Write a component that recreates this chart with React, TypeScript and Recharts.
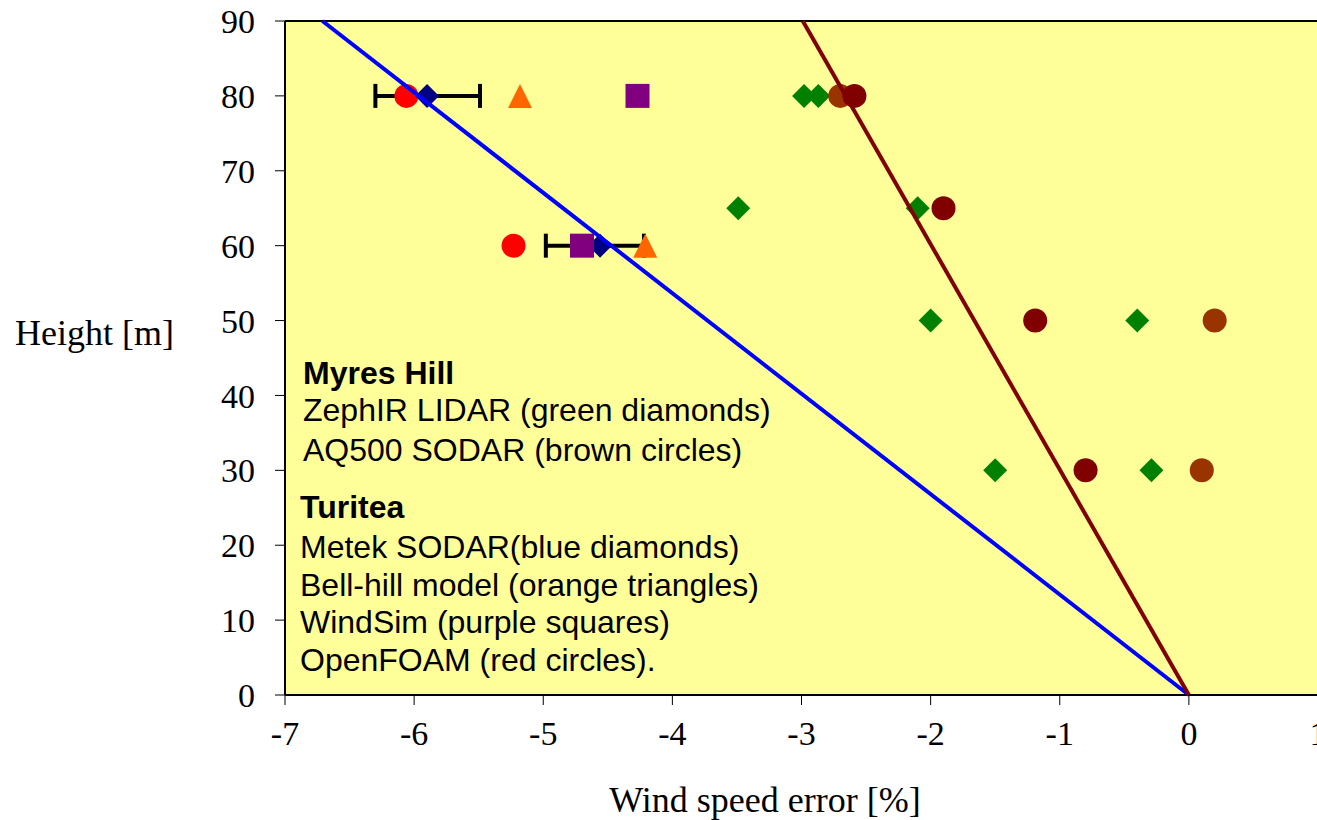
import React from 'react';
import {
  ComposedChart,
  Scatter,
  XAxis,
  YAxis,
  CartesianGrid,
  ReferenceLine,
  ErrorBar
} from 'recharts';

// x = wind speed error [%], y = height [m]
const openFoam = [
  { x: -6.06, y: 80 },
  { x: -5.23, y: 60 }
];
const metek = [
  { x: -5.9, y: 80, err: [0.4, 0.41] },
  { x: -4.56, y: 60, err: [0.42, 0.34] }
];
const bellHill = [
  { x: -5.18, y: 80 },
  { x: -4.21, y: 60 }
];
const windSim = [
  { x: -4.27, y: 80 },
  { x: -4.7, y: 60 }
];
const zephir = [
  { x: -2.98, y: 80 },
  { x: -2.87, y: 80 },
  { x: -3.49, y: 65 },
  { x: -2.1, y: 65 },
  { x: -2.0, y: 50 },
  { x: -0.4, y: 50 },
  { x: -1.5, y: 30 },
  { x: -0.29, y: 30 }
];
const aq500Dark = [
  { x: -2.59, y: 80 },
  { x: -1.9, y: 65 },
  { x: -1.19, y: 50 },
  { x: -0.8, y: 30 }
];
const aq500Brown = [
  { x: -2.7, y: 80 },
  { x: 0.2, y: 50 },
  { x: 0.1, y: 30 }
];
const blueTrend = [
  { x: 0, y: 0 },
  { x: -6.71, y: 90 }
];
const redTrend = [
  { x: 0, y: 0 },
  { x: -2.99, y: 90 }
];

const xTicks = [-7, -6, -5, -4, -3, -2, -1, 0, 1];
const yTicks = [0, 10, 20, 30, 40, 50, 60, 70, 80, 90];

const myresLines = ['ZephIR LIDAR (green diamonds)', 'AQ500 SODAR (brown circles)'];
const turiteaLines = [
  'Metek SODAR(blue diamonds)',
  'Bell-hill model (orange triangles)',
  'WindSim (purple squares)',
  'OpenFOAM (red circles).'
];

const R = 12;

const Circle = (fill: string) => (p: any) => <circle cx={p.cx} cy={p.cy} r={R} fill={fill} />;
const Diamond = (fill: string) => (p: any) => (
  <polygon
    points={`${p.cx},${p.cy - R} ${p.cx + R},${p.cy} ${p.cx},${p.cy + R} ${p.cx - R},${p.cy}`}
    fill={fill}
  />
);
const Square = (fill: string) => (p: any) => (
  <rect x={p.cx - R} y={p.cy - R} width={2 * R} height={2 * R} fill={fill} />
);
const Triangle = (fill: string) => (p: any) => (
  <polygon
    points={`${p.cx},${p.cy - R} ${p.cx + R},${p.cy + R} ${p.cx - R},${p.cy + R}`}
    fill={fill}
  />
);
const Nothing = () => <g />;

const serif = '"Liberation Serif", "Times New Roman", serif';
const sans = '"Liberation Sans", Arial, sans-serif';

const legendLine = (text: string, top: number, left: number, bold = false) => (
  <div
    key={text}
    style={{
      position: 'absolute',
      left,
      top,
      transform: 'translateY(-50%)',
      fontFamily: sans,
      fontSize: 32,
      fontWeight: bold ? 'bold' : 'normal',
      lineHeight: 1,
      whiteSpace: 'nowrap',
      color: '#000'
    }}
  >
    {text}
  </div>
);

const App = () => {
  return (
    <div
      style={{
        position: 'fixed',
        left: 0,
        top: 0,
        width: 1317,
        height: 820,
        overflow: 'hidden',
        background: '#fff'
      }}
    >
      <ComposedChart
        width={1400}
        height={820}
        margin={{ top: 21, right: 82, bottom: 0, left: 0 }}
      >
        <CartesianGrid fill="#FFFF99" horizontal={false} vertical={false} />
        <XAxis
          type="number"
          dataKey="x"
          domain={[-7, 1]}
          ticks={xTicks}
          allowDataOverflow
          height={125}
          tickSize={10}
          tickMargin={16}
          axisLine={{ stroke: '#000', strokeWidth: 2 }}
          tickLine={{ stroke: '#000' }}
          tick={{ fontSize: 34, fill: '#000', fontFamily: serif }}
        />
        <YAxis
          type="number"
          dataKey="y"
          domain={[0, 90]}
          ticks={yTicks}
          width={285}
          tickSize={10}
          tickMargin={20}
          axisLine={{ stroke: '#000', strokeWidth: 2 }}
          tickLine={{ stroke: '#000' }}
          tick={{ fontSize: 34, fill: '#000', fontFamily: serif }}
        />
        <ReferenceLine y={90} stroke="#000" strokeWidth={2} />
        <Scatter data={metek} shape={Nothing} isAnimationActive={false}>
          <ErrorBar dataKey="err" direction="x" width={12} stroke="#000" strokeWidth={4} />
        </Scatter>
        <Scatter data={openFoam} shape={Circle('#FF0000')} isAnimationActive={false} />
        <Scatter data={metek} shape={Diamond('#000080')} isAnimationActive={false} />
        <Scatter data={bellHill} shape={Triangle('#FF6600')} isAnimationActive={false} />
        <Scatter data={windSim} shape={Square('#800080')} isAnimationActive={false} />
        <Scatter data={zephir} shape={Diamond('#008000')} isAnimationActive={false} />
        <Scatter data={aq500Brown} shape={Circle('#993300')} isAnimationActive={false} />
        <Scatter data={aq500Dark} shape={Circle('#800000')} isAnimationActive={false} />
        <Scatter
          data={blueTrend}
          shape={Nothing}
          stroke="#0000FF"
          strokeWidth={4}
          line={{ stroke: '#0000FF', strokeWidth: 4 }}
          isAnimationActive={false}
        />
        <Scatter
          data={redTrend}
          shape={Nothing}
          stroke="#800000"
          strokeWidth={4}
          line={{ stroke: '#800000', strokeWidth: 4 }}
          isAnimationActive={false}
        />
      </ComposedChart>

      <div
        style={{
          position: 'absolute',
          left: 15,
          top: 333,
          transform: 'translateY(-50%)',
          fontFamily: serif,
          fontSize: 36,
          lineHeight: 1,
          whiteSpace: 'nowrap'
        }}
      >
        Height [m]
      </div>
      <div
        style={{
          position: 'absolute',
          left: 765,
          top: 800,
          transform: 'translate(-50%, -50%)',
          fontFamily: serif,
          fontSize: 36,
          lineHeight: 1,
          whiteSpace: 'nowrap'
        }}
      >
        Wind speed error [%]
      </div>

      {legendLine('Myres Hill', 373, 303, true)}
      {myresLines.map((t, i) => legendLine(t, 410 + i * 40, 303))}
      {legendLine('Turitea', 507, 300, true)}
      {turiteaLines.map((t, i) => legendLine(t, 547 + i * 37.7, 300))}
    </div>
  );
};

export default App;
